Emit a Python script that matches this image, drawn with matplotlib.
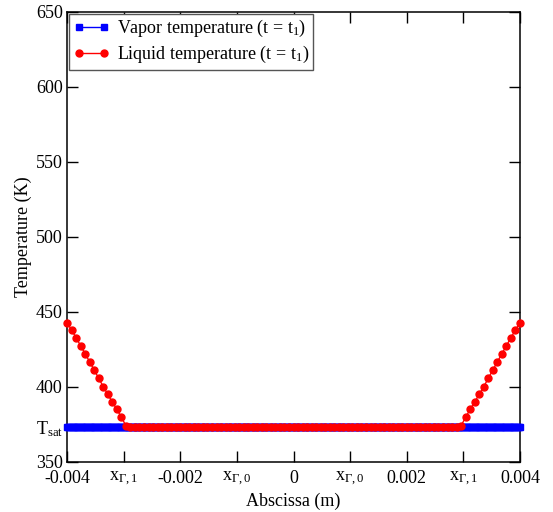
import matplotlib
matplotlib.use("Agg")
import matplotlib.pyplot as plt
import numpy as np

plt.rcParams['font.family'] = ['Liberation Serif', 'DejaVu Serif']
plt.rcParams['mathtext.fontset'] = 'custom'
plt.rcParams['mathtext.rm'] = 'Liberation Serif'
plt.rcParams['mathtext.it'] = 'Liberation Serif:italic'

# Data
T_SAT = 373.15

# liquid: 101 nodes on [-0.004, 0.004]
x_liq = np.linspace(-0.004, 0.004, 101)
ramp_left = [442.9, 438.0, 432.9, 427.5, 422.2, 416.7, 411.3,
             405.8, 400.2, 395.1, 390.0, 385.1, 379.8, 374.2]
plateau = [T_SAT] * 73
T_liq = np.array(ramp_left + plateau + ramp_left[::-1])

# vapor: fine grid, constant at saturation
x_vap = np.linspace(-0.004, 0.004, 401)
T_vap = np.full(x_vap.size, T_SAT)

x_ticks = [-0.004, -0.003, -0.002, -0.001, 0, 0.001, 0.002, 0.003, 0.004]
x_tick_labels = ['-0.004', r'$\mathrm{x_{\Gamma,1}}$', '-0.002', r'$\mathrm{x_{\Gamma,0}}$', '0',
                 r'$\mathrm{x_{\Gamma,0}}$', '0.002', r'$\mathrm{x_{\Gamma,1}}$', '0.004']
y_ticks = [350, T_SAT, 400, 450, 500, 550, 600, 650]
y_tick_labels = ['350', r'$\mathrm{T_{sat}}$', '400', '450', '500', '550', '600', '650']

fig = plt.figure(figsize=(5.53, 5.12), dpi=100)
ax = fig.add_axes([0.1212, 0.0977, 0.8191, 0.8789])

ax.plot(x_vap, T_vap, color='blue', marker='s', markersize=4.3, linewidth=1,
        label=r'Vapor temperature (t = $\mathrm{t_1}$)', clip_on=False, zorder=3)
ax.plot(x_liq, T_liq, color='red', marker='o', markersize=5, linewidth=1,
        label=r'Liquid temperature (t = $\mathrm{t_1}$)', clip_on=False, zorder=4)

ax.set_xlim(-0.004, 0.004)
ax.set_ylim(350, 650)
ax.set_xticks(x_ticks)
ax.set_xticklabels(x_tick_labels)
ax.set_yticks(y_ticks)
ax.set_yticklabels(y_tick_labels)
ax.tick_params(direction='in', length=8, width=1, top=True, right=True,
               labelsize=13)
ax.tick_params(axis='x', pad=6)
ax.tick_params(axis='y', pad=3)
for s in ax.spines.values():
    s.set_linewidth(1.1)

ax.set_xlabel('Abscissa (m)', fontsize=13, labelpad=3)
ax.set_ylabel('Temperature (K)', fontsize=13, labelpad=3)

leg = ax.legend(loc='upper left', fontsize=13, numpoints=2, handlelength=2.0,
                borderaxespad=0.1, borderpad=0.25, labelspacing=0.25,
                handletextpad=0.4, fancybox=False, framealpha=1)
leg.get_frame().set_edgecolor('#555555')
leg.get_frame().set_linewidth(1)

fig.savefig('out.png', dpi=100)
